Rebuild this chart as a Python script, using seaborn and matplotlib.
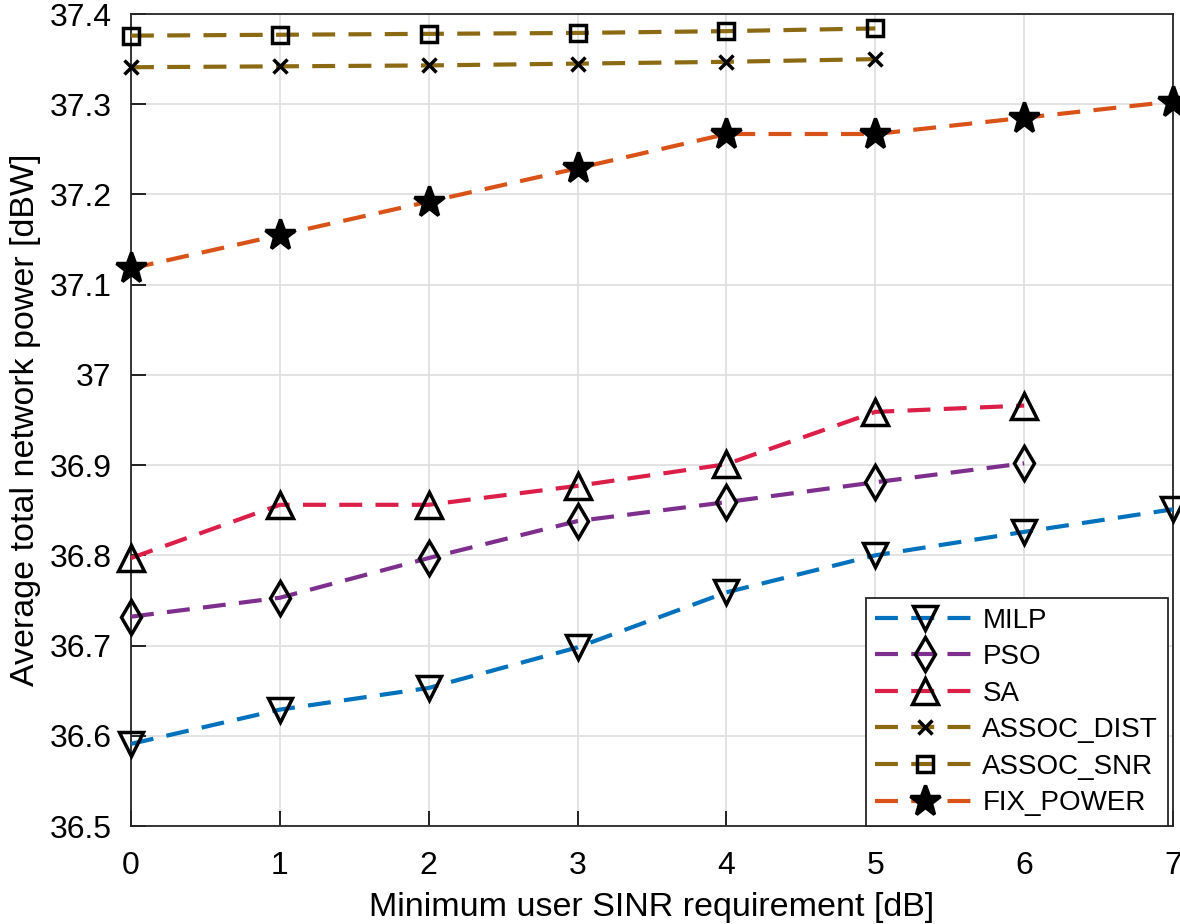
import numpy as np
import pandas as pd
import seaborn as sns
import matplotlib.pyplot as plt

# Datos
sinr = [0, 1, 2, 3, 4, 5, 6, 7]
milp = [36.591, 36.629, 36.653, 36.698, 36.759, 36.800, 36.826, 36.851]
pso = [36.732, 36.753, 36.797, 36.838, 36.859, 36.881, 36.902]
sa = [36.797, 36.856, 36.856, 36.877, 36.901, 36.959, 36.966]
assoc_dist = [37.341, 37.342, 37.343, 37.345, 37.347, 37.350]
assoc_snr = [37.376, 37.377, 37.378, 37.379, 37.381, 37.384]
fix_power = [37.118, 37.155, 37.192, 37.229, 37.267, 37.267, 37.285, 37.303]

series = [
    ("MILP", milp, "#0072BD", "v"),
    ("PSO", pso, "#7E2F8E", "d"),
    ("SA", sa, "#DC1F48", "^"),
    ("ASSOC_DIST", assoc_dist, "#8C6A14", "x"),
    ("ASSOC_SNR", assoc_snr, "#8C6A14", "s"),
    ("FIX_POWER", fix_power, "#D95319", "*"),
]

rows = []
for name, vals, _, _ in series:
    for x, v in zip(sinr, vals):
        rows.append({"sinr": x, "power": v, "metodo": name})
df = pd.DataFrame(rows)

sns.set_theme(style="whitegrid")
plt.rcParams['font.family'] = ['Liberation Sans', 'DejaVu Sans']
plt.rcParams['text.color'] = 'black'
plt.rcParams['axes.labelcolor'] = 'black'
plt.rcParams['xtick.color'] = 'black'
plt.rcParams['ytick.color'] = 'black'

fig = plt.figure(figsize=(11.8, 9.24), dpi=100)
ax = fig.add_axes([131 / 1180, 1 - 826 / 924, (1173 - 131) / 1180, (826 - 14) / 924])

estilos = {
    "v": dict(markersize=17, mfc="none"),
    "d": dict(markersize=17, mfc="none"),
    "^": dict(markersize=19, mfc="none"),
    "x": dict(markersize=10, mfc="none"),
    "s": dict(markersize=11, mfc="none"),
    "*": dict(markersize=23, mfc="black"),
}

for name, vals, color, mk in series:
    sub = df[df["metodo"] == name]
    sns.lineplot(data=sub, x="sinr", y="power", ax=ax, color=color, label=name,
                 linewidth=3.0, dashes=False, linestyle=(0, (5.5, 3.2)),
                 marker=mk, mec="black", mew=2.5, clip_on=False, zorder=3,
                 **estilos[mk])

ax.set_xlim(0, 7)
ax.set_ylim(36.5, 37.4)
ax.set_xticks(range(0, 8))
ax.set_yticks(np.round(np.arange(36.5, 37.41, 0.1), 1))
ax.set_yticklabels(["36.5", "36.6", "36.7", "36.8", "36.9", "37", "37.1", "37.2", "37.3", "37.4"])
ax.tick_params(labelsize=23, direction="in", length=11, width=1.2,
               left=True, bottom=True)
ax.tick_params(axis="y", pad=14)
ax.tick_params(axis="x", pad=18)
ax.grid(True, color="#E0E0E0", linewidth=1.3)
ax.set_facecolor("white")
for s in ax.spines.values():
    s.set_color("#262626")
    s.set_linewidth(1.3)

ax.set_xlabel("Minimum user SINR requirement [dB]", fontsize=24.5, labelpad=8)
ax.set_ylabel("Average total network power [dBW]", fontsize=24.5, labelpad=6)

leg = ax.legend(loc="lower right", fontsize=20, handlelength=3.6, frameon=True,
                fancybox=False, borderpad=0.35, labelspacing=0.38, handletextpad=0.25,
                borderaxespad=0.0, bbox_to_anchor=(0.995, 0.0))
leg.get_frame().set_edgecolor("#262626")
leg.get_frame().set_linewidth(1.3)
leg.get_frame().set_alpha(1)
leg.set_zorder(5)

fig.savefig("out.png", dpi=100)
